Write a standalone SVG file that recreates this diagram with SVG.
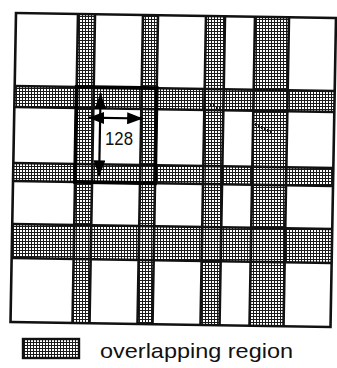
<svg xmlns="http://www.w3.org/2000/svg" width="337" height="368" viewBox="0 0 337 368">
<style>
.band{fill:url(#dotsR);stroke:none}
.grid{stroke:#111;stroke-width:2.6;fill:none}
.frame{stroke:#111;stroke-width:2.6;fill:none}
.tile{stroke:#000;stroke-width:3.8;fill:none}
.dim{stroke:#000;stroke-width:2.2;fill:none;marker-start:url(#head);marker-end:url(#head)}
.lbl{font-family:"Liberation Sans",Arial,sans-serif;fill:#111}
</style>
<defs>
<pattern id="dots" patternUnits="userSpaceOnUse" width="3" height="3">
<rect width="3" height="3" fill="#fff"/>
<rect width="3" height="1" fill="#1a1a1a"/>
<rect width="1" height="3" fill="#1a1a1a"/>
</pattern>
<pattern id="dotsR" patternUnits="userSpaceOnUse" width="3" height="3" patternTransform="matrix(0.99972 -0.0156 0.0178 0.99972 0 0)">
<rect width="3" height="3" fill="#fff"/>
<rect width="3" height="1" fill="#1a1a1a"/>
<rect width="1" height="3" fill="#1a1a1a"/>
</pattern>
<marker id="head" viewBox="0 0 16 12" markerWidth="16" markerHeight="12" refX="16" refY="6" orient="auto-start-reverse" markerUnits="userSpaceOnUse">
<path d="M0,0 L16,6 L0,12 z" fill="#000"/>
</marker>
</defs>
<rect width="337" height="368" fill="#fff"/>
<g id="grid-figure" transform="matrix(1 0.0156 -0.0178 1 16 13)">
<g id="overlap-bands">
<rect class="band" x="62" y="0" width="17" height="309"/>
<rect class="band" x="127" y="0" width="15" height="309"/>
<rect class="band" x="190" y="0" width="19" height="309"/>
<rect class="band" x="239" y="0" width="34" height="309"/>
<rect class="band" x="0" y="73" width="320" height="21"/>
<rect class="band" x="0" y="150" width="320" height="18"/>
<rect class="band" x="0" y="211" width="320" height="34"/>
</g>
<g id="grid-lines" class="grid">
<path d="M62,0V309M79,0V309M127,0V309M142,0V309M190,0V309M209,0V309M239,0V309M273,0V309"/>
<path d="M0,73H320M0,94H320M0,150H320M0,168H320M0,211H320M0,245H320"/>
</g>
<rect id="frame" class="frame" x="0" y="0" width="320" height="309"/>
<rect id="tile" class="tile" x="62" y="73" width="80" height="95"/>
<g id="connectors">
<path class="dim" d="M86,79 V162"/>
<path class="dim" d="M74,103.5 H129"/>
</g>
</g>
<g id="dim-label">
<text class="lbl" x="119" y="145" font-size="18" text-anchor="middle" textLength="28" lengthAdjust="spacingAndGlyphs">128</text>
</g>
<g id="legend">
<rect x="23" y="339" width="56" height="19" fill="url(#dots)" stroke="#111" stroke-width="2.4"/>
<text class="lbl" x="100" y="358" font-size="21" textLength="193" lengthAdjust="spacingAndGlyphs">overlapping region</text>
</g>
</svg>
